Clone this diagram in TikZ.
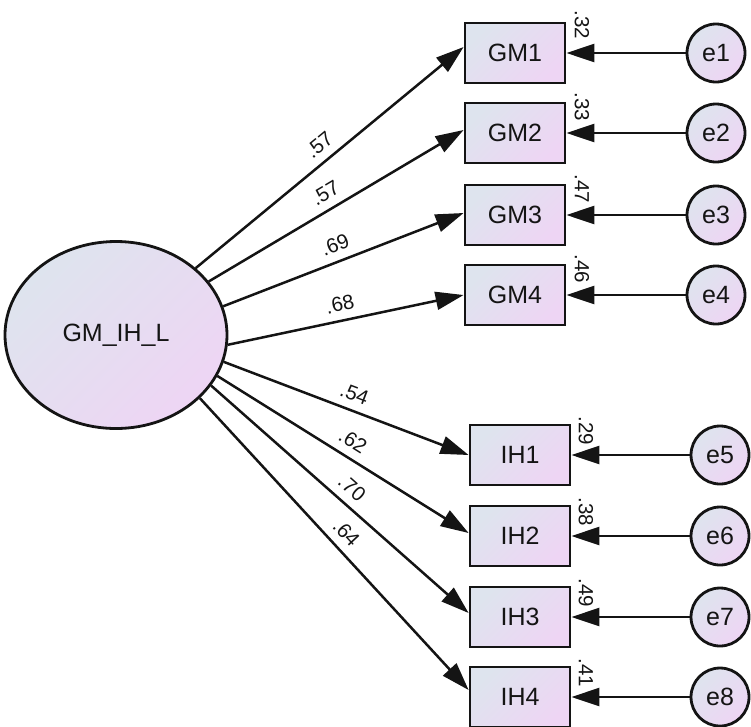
\documentclass[tikz,border=0pt]{standalone}
\usepackage{fontspec}
\setmainfont{Liberation Sans}
\usetikzlibrary{shapes.geometric,arrows.meta}
\definecolor{fillA}{RGB}{222,228,238}
\definecolor{fillB}{RGB}{238,213,244}
\definecolor{inkc}{RGB}{20,20,20}
\begin{document}
\begin{tikzpicture}[x=1pt,y=-1pt,
  shaded/.style={top color=fillA, bottom color=fillB, shading angle=45},
  obs/.style={shaded, draw=inkc, line width=2.8pt, rectangle, minimum width=100pt, minimum height=60pt, inner sep=0pt, font=\fontsize{25}{29}\selectfont, text=inkc},
  lat/.style={shaded, draw=inkc, line width=2.8pt, ellipse, minimum width=222pt, minimum height=187pt, inner sep=0pt, font=\fontsize{25}{29}\selectfont, text=inkc},
  errc/.style={shaded, draw=inkc, line width=2.8pt, circle, minimum size=58pt, inner sep=0pt, font=\fontsize{25}{29}\selectfont, text=inkc},
  load/.style={draw=inkc, line width=2.5pt, -{Triangle[length=28pt,width=18pt]}},
  lab/.style={sloped, above=7pt, inner sep=1pt, font=\fontsize{20.5}{24}\selectfont, text=inkc},
  vlab/.style={rotate=-90, inner sep=1pt, font=\fontsize{20.5}{24}\selectfont, text=inkc}]
\useasboundingbox (0,0) rectangle (751,726);

\node[lat] (L) at (116,335) {GM\_IH\_L};

\node[obs] (GM1) at (515,53) {GM1};
\node[obs] (GM2) at (515,133) {GM2};
\node[obs] (GM3) at (515,215) {GM3};
\node[obs] (GM4) at (515,295) {GM4};
\node[obs] (IH1) at (520,455) {IH1};
\node[obs] (IH2) at (520,536) {IH2};
\node[obs] (IH3) at (520,617) {IH3};
\node[obs] (IH4) at (520,697) {IH4};

\node[errc] (e1) at (716,53) {e1};
\node[errc] (e2) at (716,133) {e2};
\node[errc] (e3) at (716,215) {e3};
\node[errc] (e4) at (716,295) {e4};
\node[errc] (e5) at (720,455) {e5};
\node[errc] (e6) at (720,536) {e6};
\node[errc] (e7) at (720,617) {e7};
\node[errc] (e8) at (720,697) {e8};

\draw[load] (L.40.3) -- node[lab, pos=0.5] {.57} ([yshift=6pt]GM1.west);
\draw[load] (L.30.2) -- node[lab, pos=0.49] {.57} ([yshift=3pt]GM2.west);
\draw[load] (L.15.8) -- node[lab, pos=0.49] {.69} ([yshift=2pt]GM3.west);
\draw[load] (L.-5.7) -- node[lab, pos=0.49] {.68} (GM4.west);
\draw[load] (L.-14.2) -- node[lab, pos=0.51] {.54} (IH1.west);
\draw[load] (L.-22.6) -- node[lab, pos=0.505] {.62} ([yshift=3pt]IH2.west);
\draw[load] (L.-28.9) -- node[lab, pos=0.505] {.70} ([yshift=4pt]IH3.west);
\draw[load] (L.-37.7) -- node[lab, pos=0.5] {.64} ([yshift=7pt]IH4.west);

\foreach \e/\b in {e1/GM1,e2/GM2,e3/GM3,e4/GM4,e5/IH1,e6/IH2,e7/IH3,e8/IH4}
  \draw[load] (\e.west) -- (\b.east);

\node[vlab] (r1) at (582,25) {.32};
\node[vlab] (r2) at (582,107) {.33};
\node[vlab] (r3) at (582,189) {.47};
\node[vlab] (r4) at (582,269) {.46};
\node[vlab] (r5) at (586,431) {.29};
\node[vlab] (r6) at (586,512) {.38};
\node[vlab] (r7) at (586,593) {.49};
\node[vlab] (r8) at (586,673) {.41};
\end{tikzpicture}
\end{document}
